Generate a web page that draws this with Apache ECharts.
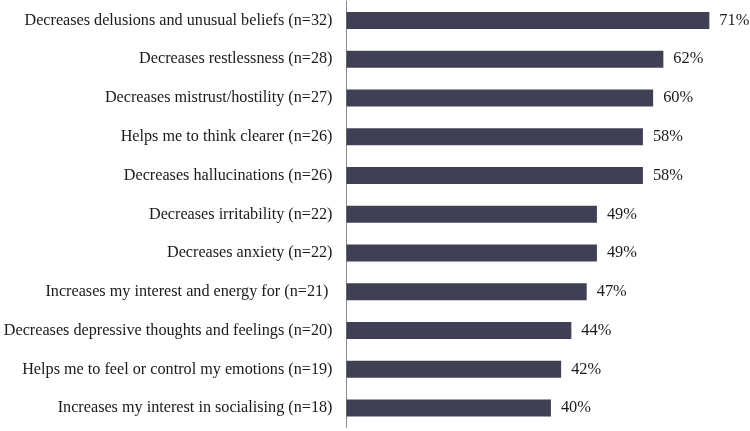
<!DOCTYPE html>
<html>
<head>
<meta charset="utf-8">
<script src="https://cdn.jsdelivr.net/npm/echarts@6/dist/echarts.min.js"></script>
<style>html,body{margin:0;padding:0;background:#fff;}#c{width:750px;height:431px;}</style>
</head>
<body>
<div id="c"></div>
<script>
const categories = [
  "Decreases delusions and unusual beliefs (n=32)",
  "Decreases restlessness (n=28)",
  "Decreases mistrust/hostility (n=27)",
  "Helps me to think clearer (n=26)",
  "Decreases hallucinations (n=26)",
  "Decreases irritability (n=22)",
  "Decreases anxiety (n=22)",
  "Increases my interest and energy for (n=21) ",
  "Decreases depressive thoughts and feelings (n=20)",
  "Helps me to feel or control my emotions (n=19)",
  "Increases my interest in socialising (n=18)"
];
const values = [71, 62, 60, 58, 58, 49, 49, 47, 44, 42, 40];

const chart = echarts.init(document.getElementById('c'), null, {renderer: 'canvas'});
chart.setOption({
  animation: false,
  backgroundColor: '#ffffff',
  grid: {left: 346.5, top: 1, width: 383.3, height: 426.5, containLabel: false},
  xAxis: {type: 'value', min: 0, max: 75, show: false},
  yAxis: {
    type: 'category', data: categories, inverse: true,
    axisLine: {show: true, lineStyle: {color: '#8a8a8a', width: 1}},
    axisTick: {show: false},
    splitLine: {show: false},
    axisLabel: {fontFamily: 'Liberation Serif', fontSize: 16.2, color: '#1a1a1a', margin: 14}
  },
  series: [{
    type: 'bar', data: values, barWidth: 17,
    itemStyle: {color: '#404055'},
    label: {show: true, position: 'right', distance: 10, formatter: '{c}%',
            fontFamily: 'Liberation Serif', fontSize: 16.4, color: '#1a1a1a'}
  }]
});
</script>
</body>
</html>
